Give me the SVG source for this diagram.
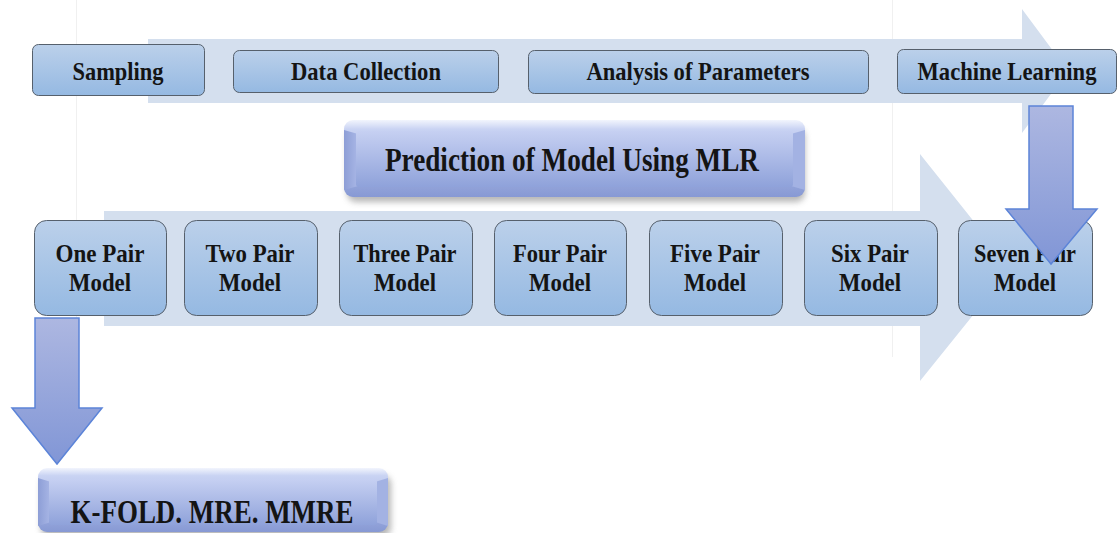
<svg xmlns="http://www.w3.org/2000/svg" width="1118" height="533" viewBox="0 0 1118 533">
  <defs>
    <linearGradient id="boxFill" x1="0" y1="0" x2="0" y2="1">
      <stop offset="0" stop-color="#bbd0ea"/>
      <stop offset="1" stop-color="#95b9e2"/>
    </linearGradient>
    <linearGradient id="downFill" x1="0" y1="0" x2="0" y2="1">
      <stop offset="0" stop-color="#adb7e1"/>
      <stop offset="1" stop-color="#8196d6"/>
    </linearGradient>
    <linearGradient id="bevelOuter" x1="0" y1="0" x2="0" y2="1">
      <stop offset="0" stop-color="#f2f5fd"/>
      <stop offset="0.12" stop-color="#c9d3f3"/>
      <stop offset="1" stop-color="#8799d4"/>
    </linearGradient>
    <linearGradient id="bevelFace" x1="0" y1="0" x2="0" y2="1">
      <stop offset="0" stop-color="#c6d0f2"/>
      <stop offset="1" stop-color="#8fa2da"/>
    </linearGradient>
    <linearGradient id="bevelSide" x1="0" y1="0" x2="1" y2="0">
      <stop offset="0" stop-color="#8d9ed6"/>
      <stop offset="1" stop-color="#a9b7e6"/>
    </linearGradient>
    <filter id="shadow" x="-10%" y="-20%" width="120%" height="150%">
      <feGaussianBlur stdDeviation="3"/>
    </filter>
    <style>
      .flow { fill: #d4dfee; }
      .guide { stroke: #f0f0f0; stroke-width: 1; fill: none; }
      .box { fill: url(#boxFill); stroke: #56606c; stroke-width: 1; }
      .down { fill: url(#downFill); stroke: #5c84d8; stroke-width: 1.5; }
      .lbl { font-family: "Liberation Serif", "Times New Roman", serif; font-weight: bold; fill: #141414; text-anchor: middle; }
      .top { font-size: 25px; }
      .pair { font-size: 26px; }
      .big { font-size: 34px; }
    </style>
  </defs>

  <rect width="1118" height="533" fill="#ffffff"/>

  <!-- faint vertical guide lines -->
  <line class="guide" x1="76.5" y1="0" x2="76.5" y2="330"/>
  <line class="guide" x1="892.5" y1="0" x2="892.5" y2="357"/>

  <!-- background flow arrows -->
  <g id="flow-arrows">
    <polygon class="flow" points="148,39 1022,39 1022,9 1068,71 1022,133 1022,103 148,103"/>
    <polygon class="flow" points="104,211 920,211 920,154 1011,268 920,381 920,326 104,326"/>
  </g>

  <!-- top row -->
  <g id="sampling">
    <rect class="box" x="32.5" y="44.5" width="172" height="51" rx="6"/>
    <text class="lbl top" x="118" y="80" textLength="91" lengthAdjust="spacingAndGlyphs">Sampling</text>
  </g>
  <g id="data-collection">
    <rect class="box" x="233.5" y="50.5" width="265" height="42" rx="6"/>
    <text class="lbl top" x="366" y="80" textLength="150" lengthAdjust="spacingAndGlyphs">Data Collection</text>
  </g>
  <g id="analysis">
    <rect class="box" x="528.5" y="50.5" width="340" height="43" rx="6"/>
    <text class="lbl top" x="698" y="80" textLength="223" lengthAdjust="spacingAndGlyphs">Analysis of Parameters</text>
  </g>
  <g id="machine-learning">
    <rect class="box" x="897.5" y="49.5" width="219" height="44" rx="6"/>
    <text class="lbl top" x="1007" y="80" textLength="179" lengthAdjust="spacingAndGlyphs">Machine Learning</text>
  </g>

  <!-- MLR prediction -->
  <g id="prediction">
    <rect x="347" y="128" width="458" height="74" rx="9" fill="#6f6f6f" opacity="0.5" filter="url(#shadow)"/>
    <rect x="344" y="120" width="461" height="77" rx="9" fill="url(#bevelOuter)"/>
    <polygon points="344,130 358,134 358,186 344,190" fill="url(#bevelSide)"/>
    <polygon points="805,130 791,134 791,186 805,190" fill="#a3b2e3"/>
    <rect x="356" y="131" width="437" height="56" rx="3" fill="url(#bevelFace)"/>
    <text class="lbl big" x="572" y="171" textLength="374" lengthAdjust="spacingAndGlyphs">Prediction of Model Using MLR</text>
  </g>

  <!-- pair models -->
  <g id="one-pair">
    <rect class="box" x="34.5" y="220.5" width="132" height="95" rx="12"/>
    <text class="lbl pair" x="100" y="262" textLength="89" lengthAdjust="spacingAndGlyphs">One Pair</text>
    <text class="lbl pair" x="100" y="291" textLength="62" lengthAdjust="spacingAndGlyphs">Model</text>
  </g>
  <g id="two-pair">
    <rect class="box" x="184.5" y="220.5" width="133" height="95" rx="12"/>
    <text class="lbl pair" x="250" y="262" textLength="89" lengthAdjust="spacingAndGlyphs">Two Pair</text>
    <text class="lbl pair" x="250" y="291" textLength="62" lengthAdjust="spacingAndGlyphs">Model</text>
  </g>
  <g id="three-pair">
    <rect class="box" x="339.5" y="220.5" width="133" height="95" rx="12"/>
    <text class="lbl pair" x="405" y="262" textLength="103" lengthAdjust="spacingAndGlyphs">Three Pair</text>
    <text class="lbl pair" x="405" y="291" textLength="62" lengthAdjust="spacingAndGlyphs">Model</text>
  </g>
  <g id="four-pair">
    <rect class="box" x="494.5" y="220.5" width="132" height="95" rx="12"/>
    <text class="lbl pair" x="560" y="262" textLength="94" lengthAdjust="spacingAndGlyphs">Four Pair</text>
    <text class="lbl pair" x="560" y="291" textLength="62" lengthAdjust="spacingAndGlyphs">Model</text>
  </g>
  <g id="five-pair">
    <rect class="box" x="649.5" y="220.5" width="133" height="95" rx="12"/>
    <text class="lbl pair" x="715" y="262" textLength="90" lengthAdjust="spacingAndGlyphs">Five Pair</text>
    <text class="lbl pair" x="715" y="291" textLength="62" lengthAdjust="spacingAndGlyphs">Model</text>
  </g>
  <g id="six-pair">
    <rect class="box" x="804.5" y="220.5" width="133" height="95" rx="12"/>
    <text class="lbl pair" x="870" y="262" textLength="78" lengthAdjust="spacingAndGlyphs">Six Pair</text>
    <text class="lbl pair" x="870" y="291" textLength="62" lengthAdjust="spacingAndGlyphs">Model</text>
  </g>
  <g id="seven-pair">
    <rect class="box" x="958.5" y="220.5" width="134" height="95" rx="12"/>
    <text class="lbl pair" x="1025" y="262" textLength="102" lengthAdjust="spacingAndGlyphs">Seven Pair</text>
    <text class="lbl pair" x="1025" y="291" textLength="62" lengthAdjust="spacingAndGlyphs">Model</text>
  </g>

  <!-- evaluation -->
  <g id="kfold">
    <rect x="41" y="475" width="350" height="62" rx="9" fill="#6f6f6f" opacity="0.5" filter="url(#shadow)"/>
    <rect x="38" y="468" width="350" height="64" rx="9" fill="url(#bevelOuter)"/>
    <polygon points="38,478 51,482 51,522 38,526" fill="url(#bevelSide)"/>
    <polygon points="388,478 375,482 375,522 388,526" fill="#a3b2e3"/>
    <rect x="49" y="479" width="328" height="46" rx="3" fill="url(#bevelFace)"/>
    <text class="lbl big" x="212" y="523" textLength="283" lengthAdjust="spacingAndGlyphs">K-FOLD. MRE. MMRE</text>
  </g>

  <!-- connectors -->
  <g id="connectors">
    <polygon class="down" points="1029,106 1073,106 1073,209 1097,209 1051,264 1006,209 1029,209"/>
    <polygon class="down" points="35,318 79,318 79,408 102,408 57,464 12,408 35,408"/>
  </g>
</svg>
